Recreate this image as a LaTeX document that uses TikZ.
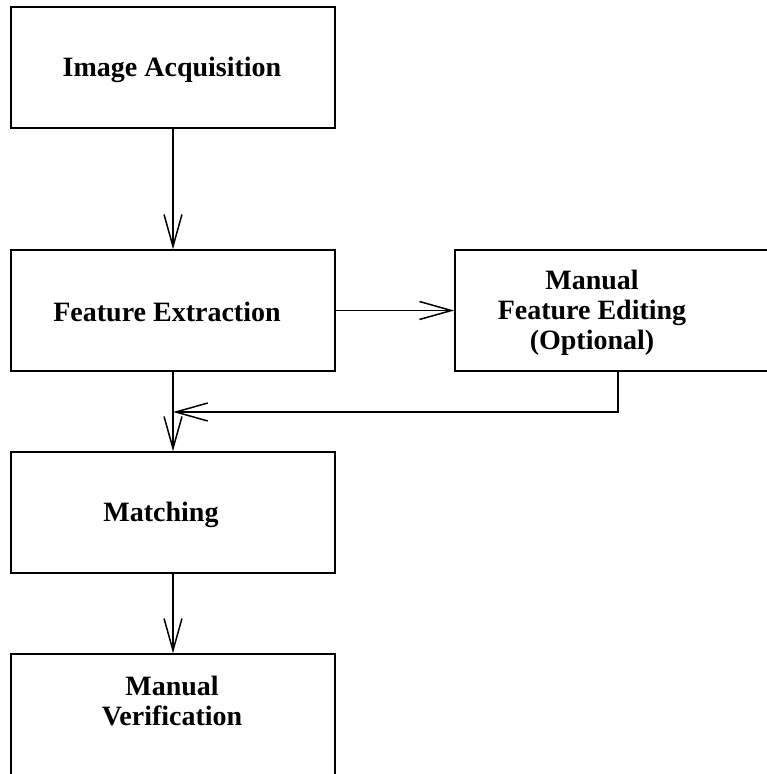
\documentclass[tikz,border=0pt]{standalone}
\usepackage{fontspec}
\setmainfont{Liberation Serif}
\usetikzlibrary{arrows.meta}
\begin{document}
\begin{tikzpicture}[x=1pt,y=-1pt,
  box/.style={draw,line width=1.6pt,minimum height=121pt,inner sep=0pt},
  wide/.style={box,minimum width=324pt},
  txt/.style={font=\fontsize{28}{30}\selectfont\bfseries,align=center,inner sep=0pt},
  arr/.style={line width=1.5pt,-{Straight Barb[length=32pt,width=18pt,line width=1.5pt]}}]
\clip (0,0) rectangle (767,774);
\fill[white] (0,0) rectangle (767,774);
\node[wide] (ia) at (173,67.5) {};
\node[txt] (tia) at (172,70) {Image Acquisition};
\node[wide] (fe) at (173,310.5) {};
\node[txt] (tfe) at (167,312) {Feature Extraction};
\node[box,minimum width=345pt] (mfe) at (627.5,310.5) {};
\node[txt] (tmfe) at (592,313) {Manual\\Feature Editing\\(Optional)};
\node[wide] (ma) at (173,512.5) {};
\node[txt] (tma) at (161,515) {Matching};
\node[wide] (mv) at (173,714.5) {};
\node[txt] (tmv) at (172,701) {Manual\\Verification};
\coordinate (fb) at (618,371);
\coordinate (j) at (173,412);
\draw[arr] (ia) -- (fe);
\draw[arr] (fe) -- (mfe.west);
\draw[arr] (fe) -- (ma);
\draw[arr] (fb) |- (j);
\draw[arr] (ma) -- (mv);
\end{tikzpicture}
\end{document}
